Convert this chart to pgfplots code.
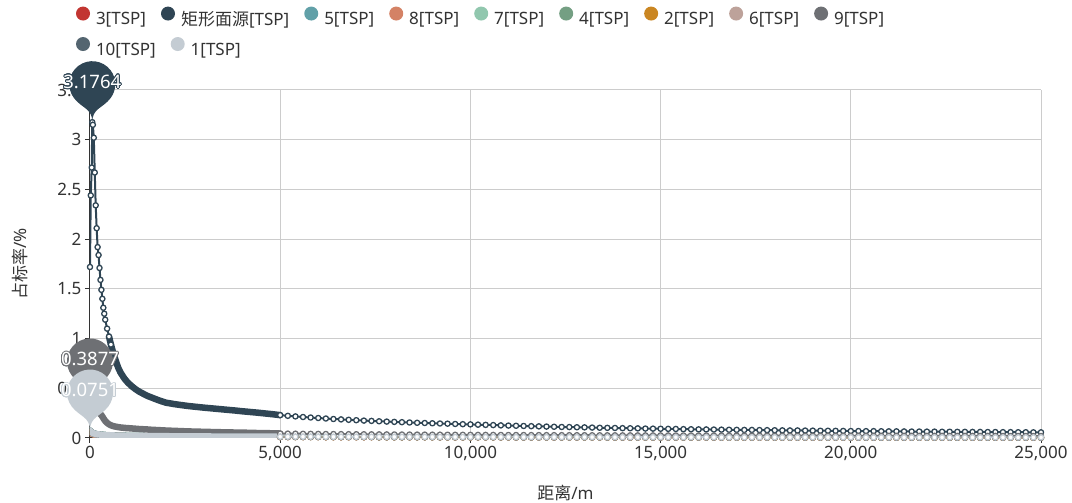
\documentclass[border=0pt]{standalone}
\usepackage{pgfplots}
\pgfplotsset{compat=1.18}
\usepackage{pgfplotstable}
\usepackage{fontspec}
\setmainfont{Noto Sans}
\newfontfamily\cjk{Noto Sans CJK SC}
\usepackage[copies]{contour}
\contourlength{0.7pt}
\contournumber{20}

\definecolor{c3}{HTML}{C23531}
\definecolor{crect}{HTML}{2F4554}
\definecolor{c5}{HTML}{61A0A8}
\definecolor{c8}{HTML}{D48265}
\definecolor{c7}{HTML}{91C7AE}
\definecolor{c4}{HTML}{749F83}
\definecolor{c2}{HTML}{CA8622}
\definecolor{c6}{HTML}{BDA29A}
\definecolor{c9}{HTML}{6E7074}
\definecolor{c10}{HTML}{546570}
\definecolor{c1}{HTML}{C4CCD3}
\definecolor{txt}{HTML}{333333}
\definecolor{gridc}{HTML}{CCCCCC}

\pgfdeclareplotmark{pin}{%
  \pgfpathmoveto{\pgfpoint{0pt}{0pt}}%
  \pgfpathcurveto{\pgfpoint{0pt}{14pt}}{\pgfpoint{-10.4pt}{13.7pt}}{\pgfpoint{-18.3pt}{24.08pt}}%
  \pgfpatharc{217.25}{-37.25}{23pt}%
  \pgfpathcurveto{\pgfpoint{10.4pt}{13.7pt}}{\pgfpoint{0pt}{14pt}}{\pgfpoint{0pt}{0pt}}%
  \pgfpathclose
  \pgfusepathqfill
}

% near-source part (0 - 5000 m)
\pgfplotstableread{
x rect g9 s1 lo1 lo2
0 1.72 0.3877 0.0751 0.0751 0.060
20 2.44 0.370 0.065 0.064 0.052
45 2.72 0.350 0.057 0.056 0.046
60 3.1764 0.340 0.053 0.052 0.043
75 3.15 0.330 0.050 0.049 0.040
100 3.02 0.315 0.046 0.045 0.037
125 2.67 0.300 0.043 0.042 0.035
150 2.34 0.290 0.041 0.040 0.033
175 2.11 0.280 0.039 0.038 0.031
200 1.92 0.270 0.037 0.036 0.030
225 1.84 0.260 0.036 0.035 0.029
250 1.71 0.250 0.035 0.034 0.028
275 1.59 0.240 0.034 0.033 0.027
300 1.49 0.230 0.033 0.032 0.026
325 1.40 0.215 0.032 0.031 0.025
350 1.31 0.200 0.031 0.030 0.025
375 1.25 0.185 0.030 0.029 0.024
400 1.19 0.172 0.030 0.028 0.024
450 1.10 0.152 0.029 0.027 0.023
500 1.02 0.138 0.028 0.026 0.022
550 0.94 0.128 0.027 0.025 0.021
600 0.87 0.121 0.026 0.024 0.020
650 0.81 0.116 0.025 0.023 0.020
700 0.75 0.112 0.025 0.023 0.019
750 0.70 0.109 0.024 0.022 0.019
800 0.66 0.106 0.024 0.022 0.018
850 0.63 0.104 0.023 0.021 0.018
900 0.60 0.102 0.023 0.021 0.017
950 0.577 0.100 0.022 0.020 0.017
1000 0.555 0.099 0.022 0.020 0.017
1100 0.520 0.096 0.021 0.019 0.016
1200 0.490 0.093 0.021 0.019 0.016
1300 0.465 0.090 0.020 0.018 0.015
1400 0.445 0.088 0.020 0.018 0.015
1500 0.425 0.086 0.019 0.017 0.015
1600 0.410 0.083 0.019 0.017 0.014
1700 0.395 0.081 0.019 0.017 0.014
1800 0.380 0.079 0.018 0.016 0.014
1900 0.367 0.077 0.018 0.016 0.014
2000 0.355 0.075 0.018 0.016 0.013
2200 0.342 0.072 0.017 0.015 0.013
2400 0.331 0.069 0.017 0.015 0.013
2600 0.321 0.066 0.016 0.015 0.012
2800 0.313 0.064 0.016 0.014 0.012
3000 0.305 0.062 0.016 0.014 0.012
3200 0.298 0.060 0.015 0.014 0.012
3400 0.291 0.058 0.015 0.013 0.011
3600 0.284 0.057 0.015 0.013 0.011
3800 0.277 0.055 0.014 0.013 0.011
4000 0.269 0.054 0.014 0.013 0.011
4200 0.262 0.052 0.014 0.012 0.010
4400 0.255 0.050 0.014 0.012 0.010
4600 0.247 0.049 0.013 0.012 0.010
4800 0.239 0.047 0.013 0.011 0.010
5000 0.230 0.045 0.013 0.011 0.009
}\tN

% far part (5000 - 25000 m, every 200 m)
\pgfplotstableread{
x rect g9 s1 lo1 lo2
5000 0.230 0.0450 0.013 0.011 0.010
5200 0.223 0.0441 0.013 0.011 0.010
5400 0.217 0.0433 0.013 0.011 0.010
5600 0.211 0.0425 0.013 0.011 0.010
5800 0.206 0.0418 0.013 0.011 0.010
6000 0.201 0.0411 0.013 0.011 0.010
6200 0.196 0.0404 0.012 0.010 0.009
6400 0.191 0.0398 0.012 0.010 0.009
6600 0.187 0.0392 0.012 0.010 0.009
6800 0.183 0.0386 0.012 0.010 0.009
7000 0.179 0.0380 0.012 0.010 0.009
7200 0.175 0.0375 0.012 0.010 0.009
7400 0.172 0.0370 0.012 0.010 0.009
7600 0.168 0.0365 0.011 0.009 0.008
7800 0.165 0.0360 0.011 0.009 0.008
8000 0.162 0.0356 0.011 0.009 0.008
8200 0.159 0.0351 0.011 0.009 0.008
8400 0.156 0.0347 0.011 0.009 0.008
8600 0.153 0.0343 0.011 0.009 0.008
8800 0.151 0.0339 0.011 0.009 0.008
9000 0.148 0.0335 0.011 0.009 0.008
9200 0.146 0.0332 0.010 0.008 0.007
9400 0.144 0.0328 0.010 0.008 0.007
9600 0.141 0.0325 0.010 0.008 0.007
9800 0.139 0.0321 0.010 0.008 0.007
10000 0.137 0.0318 0.010 0.008 0.007
10200 0.134 0.0315 0.010 0.008 0.007
10400 0.132 0.0312 0.010 0.008 0.007
10600 0.130 0.0309 0.010 0.008 0.007
10800 0.127 0.0306 0.010 0.008 0.007
11000 0.125 0.0303 0.010 0.008 0.007
11200 0.123 0.0300 0.009 0.007 0.006
11400 0.121 0.0298 0.009 0.007 0.006
11600 0.119 0.0295 0.009 0.007 0.006
11800 0.117 0.0293 0.009 0.007 0.006
12000 0.115 0.0290 0.009 0.007 0.006
12200 0.113 0.0288 0.009 0.007 0.006
12400 0.111 0.0286 0.009 0.007 0.006
12600 0.110 0.0283 0.009 0.007 0.006
12800 0.108 0.0281 0.009 0.007 0.006
13000 0.107 0.0279 0.009 0.007 0.006
13200 0.105 0.0277 0.009 0.007 0.006
13400 0.103 0.0275 0.009 0.007 0.006
13600 0.102 0.0273 0.008 0.006 0.005
13800 0.101 0.0271 0.008 0.006 0.005
14000 0.099 0.0269 0.008 0.006 0.005
14200 0.098 0.0267 0.008 0.006 0.005
14400 0.097 0.0265 0.008 0.006 0.005
14600 0.095 0.0263 0.008 0.006 0.005
14800 0.094 0.0261 0.008 0.006 0.005
15000 0.093 0.0260 0.008 0.006 0.005
15200 0.092 0.0258 0.008 0.006 0.005
15400 0.091 0.0256 0.008 0.006 0.005
15600 0.089 0.0255 0.008 0.006 0.005
15800 0.088 0.0253 0.008 0.006 0.005
16000 0.087 0.0251 0.008 0.006 0.005
16200 0.086 0.0250 0.008 0.006 0.005
16400 0.085 0.0248 0.008 0.006 0.005
16600 0.084 0.0247 0.007 0.005 0.004
16800 0.083 0.0245 0.007 0.005 0.004
17000 0.082 0.0244 0.007 0.005 0.004
17200 0.081 0.0242 0.007 0.005 0.004
17400 0.081 0.0241 0.007 0.005 0.004
17600 0.080 0.0240 0.007 0.005 0.004
17800 0.079 0.0238 0.007 0.005 0.004
18000 0.078 0.0237 0.007 0.005 0.004
18200 0.077 0.0236 0.007 0.005 0.004
18400 0.076 0.0234 0.007 0.005 0.004
18600 0.076 0.0233 0.007 0.005 0.004
18800 0.075 0.0232 0.007 0.005 0.004
19000 0.074 0.0231 0.007 0.005 0.004
19200 0.073 0.0230 0.007 0.005 0.004
19400 0.073 0.0228 0.007 0.005 0.004
19600 0.072 0.0227 0.007 0.005 0.004
19800 0.071 0.0226 0.007 0.005 0.004
20000 0.070 0.0225 0.007 0.005 0.004
20200 0.070 0.0224 0.006 0.004 0.003
20400 0.069 0.0223 0.006 0.004 0.003
20600 0.069 0.0222 0.006 0.004 0.003
20800 0.068 0.0221 0.006 0.004 0.003
21000 0.067 0.0220 0.006 0.004 0.003
21200 0.067 0.0219 0.006 0.004 0.003
21400 0.066 0.0218 0.006 0.004 0.003
21600 0.065 0.0217 0.006 0.004 0.003
21800 0.065 0.0216 0.006 0.004 0.003
22000 0.064 0.0215 0.006 0.004 0.003
22200 0.064 0.0214 0.006 0.004 0.003
22400 0.063 0.0213 0.006 0.004 0.003
22600 0.063 0.0212 0.006 0.004 0.003
22800 0.062 0.0211 0.006 0.004 0.003
23000 0.062 0.0210 0.006 0.004 0.003
23200 0.061 0.0209 0.006 0.004 0.003
23400 0.061 0.0208 0.006 0.004 0.003
23600 0.060 0.0207 0.006 0.004 0.003
23800 0.060 0.0206 0.006 0.004 0.003
24000 0.059 0.0205 0.006 0.004 0.003
24200 0.059 0.0204 0.006 0.004 0.003
24400 0.058 0.0203 0.006 0.004 0.003
24600 0.058 0.0202 0.006 0.004 0.003
24800 0.057 0.0201 0.006 0.004 0.003
25000 0.057 0.0200 0.006 0.004 0.003
}\tF

\pgfplotsset{
  band/.style={line width=6.5pt, line join=round, line cap=round, mark=none, forget plot},
  thinline/.style={line width=2pt, line join=round, mark=none, forget plot},
  circ/.style={line width=2pt, line join=round, mark=*, mark size=2.6pt,
    mark options={fill=white, line width=1.3pt, solid}, forget plot},
  legbase/.style={
    legend style={draw=none, fill=none, font=\fontsize{17}{17}\selectfont, text=txt,
      inner sep=0pt, outer sep=0pt, column sep=0pt, nodes={inner sep=0pt},
      /tikz/every even column/.append style={column sep=15pt}},
    legend image code/.code={\fill[##1, draw=none] (7pt,6pt) circle (7pt); \path[draw=none, fill=none] (0pt,-1pt) rectangle (20pt,13pt);},
  },
  pinlab/.style={nodes near coords={\contour{#1}{\pgfplotspointmeta}},
    point meta=explicit symbolic, nodes near coords align={center},
    every node near coord/.append style={anchor=center, yshift=40pt, text=white,
      font=\fontsize{18.5}{18.5}\selectfont, inner sep=0pt}},
}

\begin{document}
\begin{tikzpicture}
\useasboundingbox (-90pt,-65pt) rectangle (982pt,438pt);
\begin{axis}[
  at={(0pt,0pt)}, anchor=south west,
  scale only axis, width=951pt, height=348pt,
  xmin=0, xmax=25000, ymin=0, ymax=3.5,
  xtick={0,5000,10000,15000,20000,25000},
  ytick={0,0.5,1,1.5,2,2.5,3,3.5},
  scaled x ticks=false, scaled y ticks=false,
  /pgf/number format/assume math mode=true,
  /pgf/number format/1000 sep={,},
  axis x line*=bottom, axis y line*=left,
  axis line style={txt, line width=1pt},
  grid=major, grid style={gridc, line width=1pt},
  tick style={txt, line width=1pt}, tick align=outside, major tick length=5pt,
  tick label style={font=\fontsize{17}{17}\selectfont, text=txt},
  xlabel={{\cjk 距离}/m}, ylabel={{\cjk 占标率}/\%},
  label style={font=\fontsize{17}{17}\selectfont, text=txt},
  xlabel style={at={(axis description cs:0.5,-0.158)}, anchor=center},
  ylabel style={at={(axis description cs:-0.0736,0.5)}, anchor=center},
  legbase,
  legend columns=9,
  legend style={at={(axis description cs:-0.0147,1.2098)}, anchor=west},
]
\addlegendimage{c3}\addlegendentry{3[TSP]}
\addlegendimage{crect}\addlegendentry{{\cjk 矩形面源}[TSP]}
\addlegendimage{c5}\addlegendentry{5[TSP]}
\addlegendimage{c8}\addlegendentry{8[TSP]}
\addlegendimage{c7}\addlegendentry{7[TSP]}
\addlegendimage{c4}\addlegendentry{4[TSP]}
\addlegendimage{c2}\addlegendentry{2[TSP]}
\addlegendimage{c6}\addlegendentry{6[TSP]}
\addlegendimage{c9}\addlegendentry{9[TSP]}

% 3[TSP]
\addplot[c3, band] table[x=x, y=lo2] {\tN};
\addplot[c3, circ] table[x=x, y=lo2] {\tF};
% rectangular area source
\addplot[crect, band, restrict x to domain=480:5000] table[x=x, y=rect] {\tN};
\addplot[crect, thinline] table[x=x, y=rect] {\tN};
\addplot[crect, circ, only marks, restrict x to domain=0:560] table[x=x, y=rect] {\tN};
\addplot[crect, circ] table[x=x, y=rect] {\tF};
% 5[TSP]
\addplot[c5, band] table[x=x, y=lo1] {\tN};
\addplot[c5, circ] table[x=x, y=lo1] {\tF};
% 8[TSP]
\addplot[c8, band] table[x=x, y=lo2] {\tN};
\addplot[c8, circ] table[x=x, y=lo2] {\tF};
% 7[TSP]
\addplot[c7, band] table[x=x, y=lo1] {\tN};
\addplot[c7, circ] table[x=x, y=lo1] {\tF};
% 4[TSP]
\addplot[c4, band] table[x=x, y=lo1] {\tN};
\addplot[c4, circ] table[x=x, y=lo1] {\tF};
% 2[TSP]
\addplot[c2, band] table[x=x, y=lo2] {\tN};
\addplot[c2, circ] table[x=x, y=lo2] {\tF};
% 6[TSP]
\addplot[c6, band] table[x=x, y=lo2] {\tN};
\addplot[c6, circ] table[x=x, y=lo2] {\tF};
% 9[TSP]
\addplot[c9, band] table[x=x, y=g9] {\tN};
\addplot[c9, circ] table[x=x, y=g9] {\tF};
% 10[TSP]
\addplot[c10, band] table[x=x, y=lo1] {\tN};
\addplot[c10, circ] table[x=x, y=lo1] {\tF};
% 1[TSP]
\addplot[c1, band] table[x=x, y=s1] {\tN};
\addplot[c1, circ] table[x=x, y=s1] {\tF};
\end{axis}

\begin{axis}[
  at={(0pt,0pt)}, anchor=south west,
  scale only axis, width=951pt, height=348pt,
  xmin=0, xmax=25000, ymin=0, ymax=3.5,
  hide axis, clip=false,
  legbase,
  legend columns=2,
  legend style={at={(axis description cs:-0.0147,1.1236)}, anchor=west},
]
\addlegendimage{c10}\addlegendentry{10[TSP]}
\addlegendimage{c1}\addlegendentry{1[TSP]}
\addplot[only marks, mark=pin, color=crect, mark options={fill=crect, draw=none}, forget plot, pinlab=crect] coordinates {(60,3.1764) [3.1764]};
\addplot[only marks, mark=pin, color=c9, mark options={fill=c9, draw=none}, forget plot, pinlab=c9] coordinates {(0,0.3877) [0.3877]};
\addplot[only marks, mark=pin, color=c1, mark options={fill=c1, draw=none}, forget plot, pinlab=c1] coordinates {(0,0.0751) [0.0751]};
\end{axis}
\end{tikzpicture}
\end{document}
